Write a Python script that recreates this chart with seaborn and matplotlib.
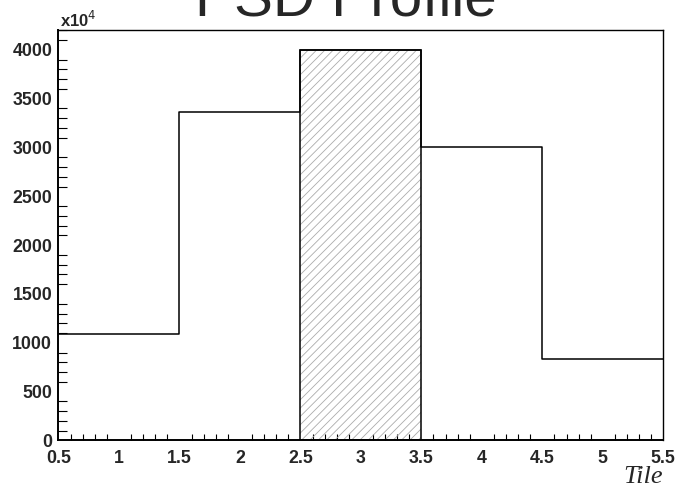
import numpy as np
import pandas as pd
import matplotlib
matplotlib.use("Agg")
import matplotlib.pyplot as plt
import seaborn as sns
from matplotlib.ticker import MultipleLocator

# Histogram content per tile, in units of 10^4
tiles = [1, 2, 3, 4, 5]
counts = [1090, 3365, 4000, 3000, 830]
highlight_tile = 3
bin_edges = [0.5, 1.5, 2.5, 3.5, 4.5, 5.5]
y_ticks = [0, 500, 1000, 1500, 2000, 2500, 3000, 3500, 4000]
x_ticks = [0.5, 1, 1.5, 2, 2.5, 3, 3.5, 4, 4.5, 5, 5.5]

sns.set_style("white")
plt.rcParams["font.family"] = ["Liberation Sans", "DejaVu Sans"]
plt.rcParams["hatch.linewidth"] = 0.6

df = pd.DataFrame({"tile": tiles, "counts": counts})

fig = plt.figure(figsize=(6.89, 4.87), dpi=100)
ax = fig.add_axes([0.0849, 0.0955, 0.8778, 0.8423])

# Hatched fill of the highlighted tile
hi = df[df["tile"] == highlight_tile]
ax.bar(hi["tile"], hi["counts"], width=1.0, fill=False, hatch="////",
       edgecolor="#ababab", linewidth=0, zorder=1)
ax.bar(hi["tile"], hi["counts"], width=1.0, fill=False,
       edgecolor="black", linewidth=1.1, zorder=3)

# Step outline of the full profile
sns.histplot(data=df, x="tile", weights="counts", bins=bin_edges,
             element="step", fill=False, color="black", linewidth=1.1,
             ax=ax, zorder=2)

ax.set_xlim(0.5, 5.5)
ax.set_ylim(0, 4200)
ax.set_xticks(x_ticks)
ax.set_xticklabels([f"{t:g}" for t in x_ticks])
ax.set_yticks(y_ticks)
ax.set_yticklabels([str(t) for t in y_ticks])
ax.xaxis.set_minor_locator(MultipleLocator(0.1))
ax.yaxis.set_minor_locator(MultipleLocator(100))

ax.tick_params(axis="both", which="both", direction="in", color="black",
               width=0.8, top=False, right=False)
ax.tick_params(axis="y", which="major", length=13.5, pad=4.5)
ax.tick_params(axis="y", which="minor", length=6.5, left=True)
ax.tick_params(axis="x", which="major", length=8.5, pad=7)
ax.tick_params(axis="x", which="minor", length=4.3, bottom=True)
for lab in ax.get_xticklabels() + ax.get_yticklabels():
    lab.set_fontweight("bold")
    lab.set_fontsize(12.8)

for side in ["left", "bottom", "top", "right"]:
    ax.spines[side].set_visible(True)
    ax.spines[side].set_color("black")
    ax.spines[side].set_linewidth(1.0)
ax.spines["left"].set_linewidth(1.4)
ax.spines["bottom"].set_linewidth(1.4)

ax.set_xlabel("")
ax.set_ylabel("")

# Axis multiplier, axis title and histogram title
fig.text(0.0870, 0.944, r"x10$^4$", fontsize=12, fontweight="bold",
         ha="left", va="baseline")
fig.text(0.9627, 0.008, "Tile", fontsize=19, style="italic",
         family=["Liberation Serif", "DejaVu Serif"], ha="right", va="baseline")
fig.text(0.502, 0.969, "PSD Profile", fontsize=42, ha="center",
         va="baseline")

fig.savefig("out.png", dpi=100)
